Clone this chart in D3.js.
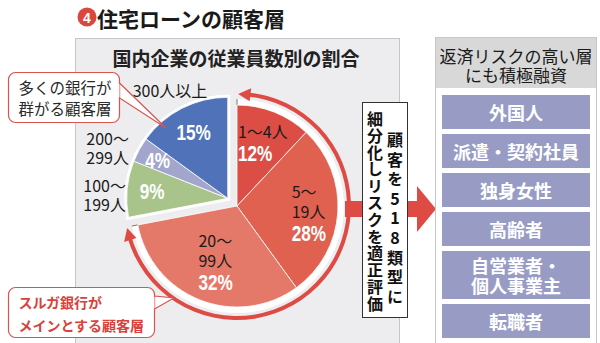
<!DOCTYPE html>
<html><head><meta charset="utf-8">
<script src="https://cdn.jsdelivr.net/npm/d3@7"></script>
<style>body{margin:0;background:#fff}svg{display:block}</style>
</head><body><svg id="c" width="600" height="343"></svg>
<script>
// ---------- data ----------
const titleText = "住宅ローンの顧客層";
const titleNumber = "4";
const pieTitle = "国内企業の従業員数別の割合";
const categories = ["1～4人", "5～19人", "20～99人", "100～199人", "200～299人", "300人以上"];
const categoryLines = [["1～4人"], ["5～", "19人"], ["20～", "99人"], ["100～", "199人"], ["200～", "299人"], ["300人以上"]];
const shares = [12, 28, 32, 9, 4, 15];
const groups = ["suruga", "suruga", "suruga", "others", "others", "others"];
const callout1 = ["多くの銀行が", "群がる顧客層"];
const callout2 = ["スルガ銀行が", "メインとする顧客層"];
const middleColumns = ["顧客を518類型に", "細分化しリスクを適正評価"];
const rightTitle = ["返済リスクの高い層", "にも積極融資"];
const riskGroups = [["外国人"], ["派遣・契約社員"], ["独身女性"], ["高齢者"], ["自営業者・", "個人事業主"], ["転職者"]];

// ---------- styles / layout ----------
const JP = "'Noto Sans CJK JP','Noto Sans',sans-serif";
const PCT = "'Liberation Sans','Roboto',sans-serif";
const colors = ["#dc4d45", "#e0614f", "#e4796a", "#a9c48b", "#a3a6cc", "#4f72b9"];
const svg = d3.select("#c");

function condense(tsel, f) {
  const len = tsel.node().getComputedTextLength();
  tsel.attr("textLength", len * f).attr("lengthAdjust", "spacingAndGlyphs");
  return len * f;
}

// title
svg.append("circle").attr("cx", 87).attr("cy", 17).attr("r", 9.5).attr("fill", "#d9473e");
svg.append("text").attr("x", 87).attr("y", 17.5).attr("text-anchor", "middle").attr("dominant-baseline", "central")
  .attr("font-family", PCT).attr("font-weight", "bold").attr("font-size", 14).attr("fill", "#fff").text(titleNumber);
svg.append("text").attr("x", 97).attr("y", 18).attr("dominant-baseline", "central")
  .attr("font-family", JP).attr("font-weight", "bold").attr("font-size", 21).attr("fill", "#1a1a1a").text(titleText);

// left panel
svg.append("rect").attr("x", 75.5).attr("y", 38.5).attr("width", 324).attr("height", 320)
  .attr("fill", "#ededef").attr("stroke", "#c6c6c6");
svg.append("text").attr("x", 236).attr("y", 57).attr("text-anchor", "middle").attr("dominant-baseline", "central")
  .attr("font-family", JP).attr("font-weight", "bold").attr("font-size", 19).attr("fill", "#222").text(pieTitle);

// pie
const cx = 237, cy = 206, R = 101;
const pie = d3.pie().sort(null).value(d => d)(shares);
const arc = d3.arc().innerRadius(0).outerRadius(R);
const othersIdx = groups.map((g, i) => g === "others" ? i : -1).filter(i => i >= 0);
const oStart = pie[othersIdx[0]].startAngle, oEnd = pie[othersIdx[othersIdx.length - 1]].endAngle;
const oMid = (oStart + oEnd) / 2, explode = 12;
const ox = explode * Math.sin(oMid), oy = -explode * Math.cos(oMid);
const sStart = pie[0].startAngle, sEnd = pie[2].endAngle;

const pg = svg.append("g").attr("transform", `translate(${cx},${cy})`);
pg.append("path").attr("d", d3.arc().innerRadius(R - 1).outerRadius(R + 6).startAngle(sStart).endAngle(sEnd)())
  .attr("fill", "#fff");
[sStart, sEnd].forEach(a => {
  pg.append("line").attr("x1", R * Math.sin(a)).attr("y1", -R * Math.cos(a))
    .attr("x2", (R + 6) * Math.sin(a)).attr("y2", -(R + 6) * Math.cos(a)).attr("stroke", "#777").attr("stroke-width", 1);
});
const og = pg.append("g").attr("transform", `translate(${ox},${oy})`);
og.append("path").attr("d", d3.arc().innerRadius(0).outerRadius(R).startAngle(oStart).endAngle(oEnd)())
  .attr("fill", "#fff").attr("stroke", "#fff").attr("stroke-width", 5);
pie.forEach((d, i) => {
  const g = groups[i] === "others" ? og : pg;
  g.append("path").attr("d", arc(d)).attr("fill", colors[i]).attr("stroke", "#fff").attr("stroke-width", 0.8);
});

// red ring with double arrow
const rr = 112, al = 0.11, hw = 6.5;
const pt = (a, r) => [r * Math.sin(a), -r * Math.cos(a)];
pg.append("path").attr("d", d3.arc().innerRadius(rr - 2).outerRadius(rr + 2).startAngle(sStart + al * 0.8).endAngle(sEnd - al * 0.8)())
  .attr("fill", "#de4b44");
[[sStart + 0.01, sStart + 0.01 + al], [sEnd - 0.01, sEnd - 0.01 - al]].forEach(([tip, base]) => {
  const p = [pt(tip, rr), pt(base, rr - hw), pt(base, rr + hw)];
  pg.append("path").attr("d", "M" + p.map(q => q.join(",")).join("L") + "Z").attr("fill", "#de4b44");
});

// labels inside slices
const labelR = [70, 72, 58, 76, 80, 75];
const pctSize = 22, lblSize = 16, squeeze = 0.78;
pie.forEach((d, i) => {
  const a = (d.startAngle + d.endAngle) / 2;
  const off = groups[i] === "others" ? [ox, oy] : [0, 0];
  const [lx, ly] = pt(a, labelR[i]);
  const x = cx + off[0] + lx, y = cy + off[1] + ly;
  const t = svg.append("text").attr("dominant-baseline", "central");
  if (groups[i] === "suruga") {
    const lines = categoryLines[i];
    const n = lines.length + 1, step = 20;
    const y0 = y - (n - 1) * step / 2;
    const spans = [];
    lines.forEach((l, k) => {
      const s = t.append("tspan").attr("y", y0 + k * step).attr("dominant-baseline", "central")
        .attr("font-family", JP).attr("font-size", lblSize).attr("fill", "#1a1a1a").text(l);
      spans.push([s, s.node().getComputedTextLength()]);
    });
    const p = t.append("tspan").attr("y", y0 + lines.length * step + 2).attr("dominant-baseline", "central")
      .attr("font-family", PCT).attr("font-weight", "bold").attr("font-size", pctSize).attr("fill", "#fff").text(shares[i] + "%");
    spans.push([p, condense(p, squeeze)]);
    const w = d3.max(spans, s => s[1]);
    spans.forEach(s => s[0].attr("x", x - w / 2));
  } else {
    const p = t.append("tspan").attr("y", y).attr("dominant-baseline", "central")
      .attr("font-family", PCT).attr("font-weight", "bold").attr("font-size", pctSize).attr("fill", "#fff").text(shares[i] + "%");
    const w = condense(p, squeeze);
    p.attr("x", x - w / 2);
  }
});

// outside labels for the exploded group
const outPos = { 3: [126, 185, "end"], 4: [129, 138, "end"], 5: [170, 90, "middle"] };
othersIdx.forEach(i => {
  const [x, y, anchor] = outPos[i];
  const t = svg.append("text").attr("text-anchor", anchor).attr("font-family", JP).attr("font-size", lblSize).attr("fill", "#1a1a1a");
  categoryLines[i].forEach((l, k) => {
    t.append("tspan").attr("x", x).attr("y", y + k * 19).attr("dominant-baseline", "central").text(l);
  });
});

// callouts
function callout(x, y, w, h, tail, lines, color, weight, size, lh) {
  svg.append("path").attr("d", "M" + tail.map(p => p.join(",")).join("L") + "Z")
    .attr("fill", "#fff").attr("stroke", "#d9534f").attr("stroke-width", 1.2);
  svg.append("rect").attr("x", x).attr("y", y).attr("width", w).attr("height", h).attr("rx", 7)
    .attr("fill", "#fff").attr("stroke", "#d9534f").attr("stroke-width", 1.2);
  svg.append("path").attr("d", `M${tail[0][0] - 1.5},${tail[0][1] + 0.8}L${tail[2][0] - 1.5},${tail[2][1] - 0.8}`)
    .attr("stroke", "#fff").attr("stroke-width", 3);
  const t = svg.append("text").attr("font-family", JP).attr("font-weight", weight).attr("font-size", size).attr("fill", color);
  lines.forEach((l, k) => {
    t.append("tspan").attr("x", x + 10).attr("y", y + 14 + k * lh).attr("dominant-baseline", "central").text(l);
  });
}
callout(8.5, 72.5, 111, 50, [[119.5, 83], [166, 128], [119.5, 98]], callout1, "#2a2a2a", "normal", 15.5, 21);
callout(8.5, 287.5, 146, 50, [[154.5, 296], [174, 298], [154.5, 309]], callout2, "#d9413a", "bold", 14, 23);

// horizontal arrow
svg.append("rect").attr("x", 345).attr("y", 201).attr("width", 74).attr("height", 16).attr("fill", "#de4b44");
svg.append("path").attr("d", "M417,186L436,209L417,232Z").attr("fill", "#de4b44");

// middle vertical text box
svg.append("rect").attr("x", 362.5).attr("y", 102.5).attr("width", 45).attr("height", 215)
  .attr("fill", "#fff").attr("stroke", "#333").attr("stroke-width", 1);
const colX = [395, 375], colTop = [132, 111], colSpacing = [3.6, 0.8];
middleColumns.forEach((s, c) => {
  svg.append("text").attr("x", colX[c]).attr("y", colTop[c])
    .style("writing-mode", "vertical-rl").style("text-orientation", "upright")
    .style("letter-spacing", colSpacing[c] + "px")
    .attr("font-family", JP).attr("font-weight", "bold").attr("font-size", 16).attr("fill", "#111").text(s);
});

// right panel
svg.append("rect").attr("x", 435.5).attr("y", 37.5).attr("width", 161).attr("height", 320)
  .attr("fill", "#fff").attr("stroke", "#c6c6c6");
svg.append("rect").attr("x", 436).attr("y", 38).attr("width", 160).attr("height", 50).attr("fill", "#d8d8d8");
const rt = svg.append("text").attr("text-anchor", "middle").attr("font-family", JP).attr("font-size", 17).attr("fill", "#1a1a1a");
rightTitle.forEach((l, k) => {
  rt.append("tspan").attr("x", 516).attr("y", 55 + k * 19).attr("dominant-baseline", "central").text(l);
});
let by = 95;
riskGroups.forEach(lines => {
  const h = lines.length === 1 ? 34 : 48;
  svg.append("rect").attr("x", 442).attr("y", by).attr("width", 148).attr("height", h).attr("fill", "#989cc5");
  const t = svg.append("text").attr("text-anchor", "middle").attr("font-family", JP).attr("font-weight", "bold")
    .attr("font-size", 18).attr("fill", "#fff");
  lines.forEach((l, k) => {
    t.append("tspan").attr("x", 516).attr("y", by + h / 2 + (k - (lines.length - 1) / 2) * 20)
      .attr("dominant-baseline", "central").text(l);
  });
  by += h + 5;
});
</script></body></html>
